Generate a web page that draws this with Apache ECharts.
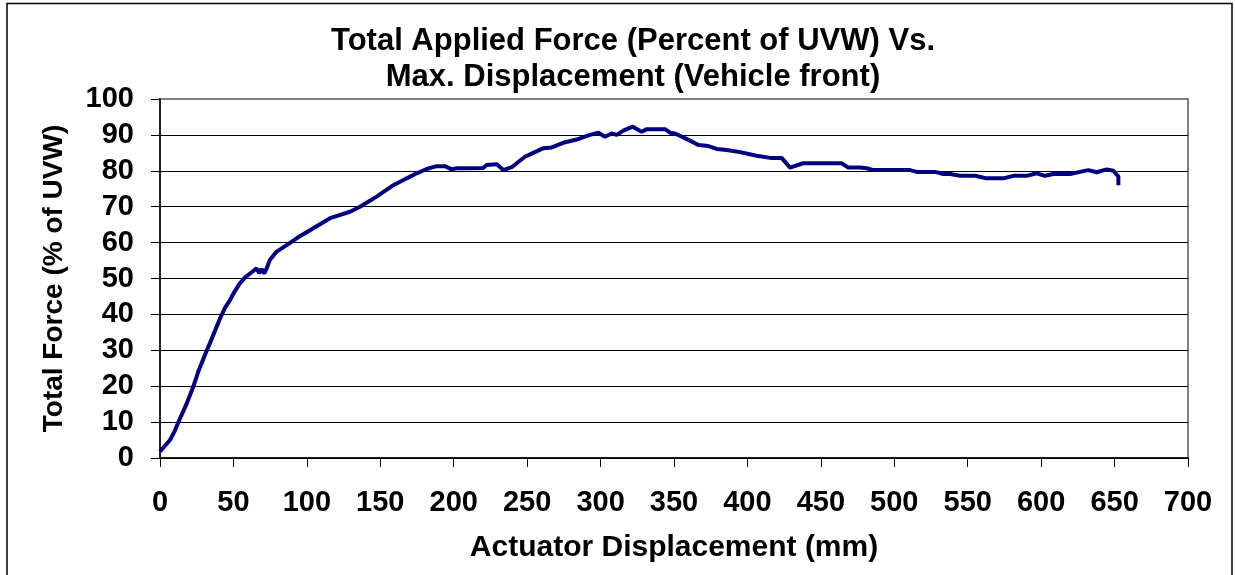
<!DOCTYPE html>
<html>
<head>
<meta charset="utf-8">
<script src="https://cdn.jsdelivr.net/npm/echarts@6/dist/echarts.min.js"></script>
<style>
  html, body { margin: 0; padding: 0; background: #fff; }
  #main { width: 1235px; height: 575px; }
</style>
</head>
<body>
<div id="main"></div>
<script>
// actuator displacement (mm)
var displacement = [
  0, 2.5, 6.8, 10, 13.6, 18, 22.7, 26, 30.6, 34,
  38, 41, 44.5, 47.7, 51, 54.5, 58, 61.3, 65.8, 67.5,
  69.2, 71, 72.6, 73.5, 74.9, 79.4, 86.3, 93, 104.4, 115.8,
  129.4, 136.2, 147.5, 158.9, 168, 174.8, 181.6, 188.4, 194, 198.6,
  202, 210, 220, 222.4, 229.3, 233.8, 239.5, 242.9, 248.5, 254.2,
  261, 266.7, 274.6, 283.7, 292.8, 298.5, 303, 307.6, 311, 315.5,
  321.9, 328, 331.4, 343.9, 347.3, 350.7, 360.9, 366.6, 373.4, 379.1,
  385.9, 395, 406.3, 415.5, 423.3, 429, 438, 464.1, 468.7, 476.6,
  481.2, 485.7, 510.7, 515.3, 527.7, 533.4, 538, 544.8, 555, 562.9,
  574.3, 581.1, 590.1, 596.9, 602.6, 608.3, 619.7, 626.5, 632.2, 637.8,
  644.6, 649.2, 652.6, 652.6
];
// total force (% of UVW)
var force = [
  1.8, 3, 5, 7.5, 11, 15, 19.9, 24, 28.7, 32,
  36, 39, 42, 44, 46.5, 48.7, 50.3, 51.4, 52.8, 51.5,
  52.6, 51.4, 52.8, 53.8, 55.2, 57.5, 59.3, 61.2, 64, 66.8,
  68.6, 70, 72.8, 76, 77.9, 79.3, 80.5, 81.3, 81.3, 80.4,
  80.7, 80.7, 80.8, 81.6, 81.8, 80.2, 81, 82.1, 83.9, 85,
  86.3, 86.5, 87.8, 88.7, 90, 90.6, 89.5, 90.4, 90, 91.2,
  92.3, 90.9, 91.6, 91.6, 90.6, 90.4, 88.4, 87.2, 86.9, 86.1,
  85.8, 85.2, 84.2, 83.6, 83.6, 80.9, 82.1, 82.1, 80.9, 80.9,
  80.7, 80.2, 80.2, 79.7, 79.7, 79.1, 79.1, 78.6, 78.6, 77.9,
  77.9, 78.6, 78.6, 79.3, 78.6, 79.1, 79.1, 79.7, 80.2, 79.6,
  80.4, 80, 78.4, 76
];
var xTicks = [0, 50, 100, 150, 200, 250, 300, 350, 400, 450, 500, 550, 600, 650, 700];
var yTicks = [0, 10, 20, 30, 40, 50, 60, 70, 80, 90, 100];

var chart = echarts.init(document.getElementById('main'));
var font = '"Liberation Sans", Arial, sans-serif';

var points = displacement.map(function (x, i) { return [x, force[i]]; });

chart.setOption({
  animation: false,
  backgroundColor: '#fff',
  title: {
    text: 'Total Applied Force (Percent of UVW) Vs.\nMax. Displacement (Vehicle front)',
    left: 628,
    top: 18,
    textAlign: 'center',
    textStyle: {
      fontFamily: font,
      fontWeight: 'bold',
      fontSize: 31,
      lineHeight: 36,
      color: '#000'
    }
  },
  graphic: [{
    type: 'rect',
    shape: { x: 7, y: 3.5, width: 1225, height: 590 },
    style: { fill: null, stroke: '#000', lineWidth: 1.5 },
    silent: true
  }],
  grid: {
    left: 160,
    top: 99,
    width: 1028,
    height: 359,
    show: true,
    borderColor: '#808080',
    borderWidth: 2
  },
  xAxis: {
    type: 'value',
    min: xTicks[0],
    max: xTicks[xTicks.length - 1],
    interval: xTicks[1] - xTicks[0],
    name: 'Actuator Displacement (mm)',
    nameLocation: 'middle',
    nameGap: 75,
    nameTextStyle: { fontFamily: font, fontWeight: 'bold', fontSize: 30, color: '#000' },
    axisLine: { show: true, lineStyle: { color: '#000', width: 1.5 } },
    axisTick: { show: true, length: 9, lineStyle: { color: '#000', width: 1 } },
    axisLabel: { margin: 30, fontFamily: font, fontWeight: 'bold', fontSize: 29, color: '#000' },
    splitLine: { show: false }
  },
  yAxis: {
    type: 'value',
    min: yTicks[0],
    max: yTicks[yTicks.length - 1],
    interval: yTicks[1] - yTicks[0],
    name: 'Total Force (% of UVW)',
    nameLocation: 'middle',
    nameGap: 92,
    nameTextStyle: { fontFamily: font, fontWeight: 'bold', fontSize: 28, color: '#000' },
    axisLine: { show: true, lineStyle: { color: '#000', width: 1.5 } },
    axisTick: { show: true, length: 9, lineStyle: { color: '#000', width: 1 } },
    axisLabel: { margin: 26, fontFamily: font, fontWeight: 'bold', fontSize: 29, color: '#000' },
    splitLine: { show: true, showMaxLine: false, lineStyle: { color: '#000', width: 1 } }
  },
  series: [{
    type: 'line',
    data: points,
    showSymbol: false,
    lineStyle: { color: '#000080', width: 4 },
    itemStyle: { color: '#000080' }
  }]
});
</script>
</body>
</html>
